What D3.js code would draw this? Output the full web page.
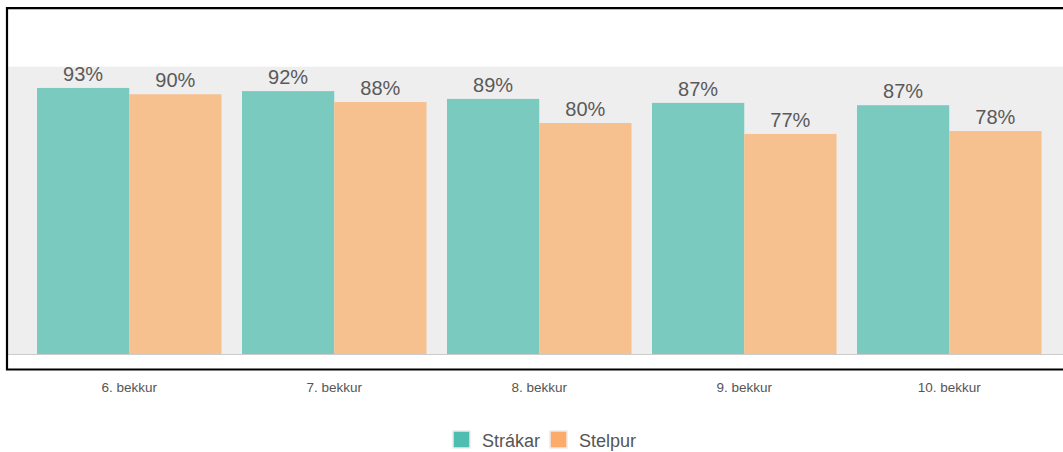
<!DOCTYPE html>
<html>
<head>
<meta charset="utf-8">
<script src="https://cdn.jsdelivr.net/npm/d3@7"></script>
<style>
  html, body { margin: 0; padding: 0; background: #fff; }
  svg { display: block; font-family: "Liberation Sans", Arial, Helvetica, sans-serif; }
</style>
</head>
<body>
<svg id="chart" width="1063" height="452"></svg>
<script>
const categories = ["6. bekkur", "7. bekkur", "8. bekkur", "9. bekkur", "10. bekkur"];
const seriesNames = ["Strákar", "Stelpur"];
const strakar = [92.6, 91.5, 88.8, 87.4, 86.6];
const stelpur = [90.4, 87.7, 80.4, 76.6, 77.6];
const barColors = ["#7bcac0", "#f6c08f"];
const legendColors = ["#4fbeb1", "#fbab6b"];

const svg = d3.select("#chart");
const W = 1063;

// frame
const frame = { left: 7, top: 8, bottom: 369.5 };
const plot = { left: 8, right: 1063, top: 66.7, bottom: 354 };

const x = d3.scaleBand().domain(categories).range([26.75, 1051.75]).paddingInner(0.1).paddingOuter(0.05);
const xs = d3.scaleBand().domain(seriesNames).range([0, x.bandwidth()]);
const y = d3.scaleLinear().domain([0, 100]).range([plot.bottom, plot.top]);

// grey plot background
svg.append("rect")
  .attr("x", plot.left).attr("y", y(100))
  .attr("width", plot.right - plot.left).attr("height", y(0) - y(100))
  .attr("fill", "#eeeeee");

// inner shadow line
svg.append("line")
  .attr("x1", frame.left + 1).attr("x2", W)
  .attr("y1", 9.5).attr("y2", 9.5)
  .attr("stroke", "#bbbbbb").attr("stroke-width", 1);

const data = categories.map((c, i) => ({ cat: c, values: [
  { name: seriesNames[0], v: strakar[i] },
  { name: seriesNames[1], v: stelpur[i] }
]}));

const g = svg.append("g").selectAll("g").data(data).join("g")
  .attr("transform", d => `translate(${x(d.cat)},0)`);

g.selectAll("rect").data(d => d.values).join("rect")
  .attr("x", d => xs(d.name))
  .attr("y", d => y(d.v))
  .attr("width", xs.bandwidth())
  .attr("height", d => y(0) - y(d.v))
  .attr("fill", (d, i) => barColors[i]);

g.selectAll("text").data(d => d.values).join("text")
  .attr("x", d => xs(d.name) + xs.bandwidth() / 2)
  .attr("y", d => y(d.v) - 7)
  .attr("text-anchor", "middle")
  .attr("font-size", "20px")
  .attr("fill", "#5a5a5a")
  .text(d => Math.round(d.v) + "%");

// baseline
svg.append("line")
  .attr("x1", plot.left).attr("x2", plot.right)
  .attr("y1", y(0) + 0.5).attr("y2", y(0) + 0.5)
  .attr("stroke", "#cccccc").attr("stroke-width", 1);

// frame border
svg.append("path")
  .attr("d", `M${W + 5},${frame.top} H${frame.left} V${frame.bottom} H${W + 5}`)
  .attr("fill", "none")
  .attr("stroke", "#000")
  .attr("stroke-width", 2.2);

// x axis labels
svg.append("g").selectAll("text").data(categories).join("text")
  .attr("x", d => x(d) + x.bandwidth() / 2)
  .attr("y", 392)
  .attr("text-anchor", "middle")
  .attr("font-size", "13.5px")
  .attr("fill", "#555")
  .text(d => d);

// legend
const legend = svg.append("g");
let lx = 453;
seriesNames.forEach((name, i) => {
  legend.append("rect")
    .attr("x", lx).attr("y", 431)
    .attr("width", 17).attr("height", 17)
    .attr("fill", legendColors[i])
    .attr("stroke", "#ececec").attr("stroke-width", 1.5);
  const t = legend.append("text")
    .attr("x", lx + 29).attr("y", 446.5)
    .attr("font-size", "18px")
    .attr("fill", "#555")
    .text(name);
  lx += 29 + t.node().getComputedTextLength() + 10;
});
</script>
</body>
</html>
